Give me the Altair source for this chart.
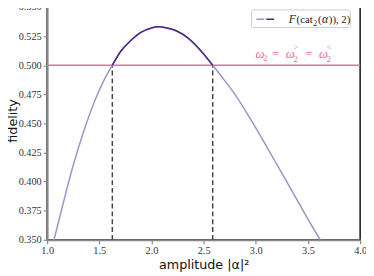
import altair as alt
import pandas as pd

# curve
amp = [1.066, 1.15, 1.25, 1.35, 1.45, 1.55, 1.625, 1.706, 1.8, 1.894, 2.0, 2.05,
       2.15, 2.2375, 2.3625, 2.4875, 2.587, 2.7, 2.8, 2.987, 3.175, 3.3625, 3.55, 3.618]
fid = [0.350, 0.380, 0.414, 0.443, 0.468, 0.488, 0.500, 0.512, 0.521, 0.528, 0.532, 0.533,
       0.532, 0.5296, 0.5225, 0.511, 0.500, 0.487, 0.475, 0.448, 0.419, 0.3895, 0.360, 0.350]
threshold = 0.5
crossings = [1.625, 2.587]
y_floor = 0.35

x_ticks = [1.0, 1.5, 2.0, 2.5, 3.0, 3.5, 4.0]
y_ticks = [0.350, 0.375, 0.400, 0.425, 0.450, 0.475, 0.500, 0.525, 0.550]

LIGHT = "#a38fcb"
DARK = "#4b2b88"
PINK = "#f06a9b"

df = pd.DataFrame({"amp": amp, "fid": fid})
df_hi = df[(df.amp >= crossings[0]) & (df.amp <= crossings[1])]
df_cross = pd.DataFrame({"amp": crossings, "lo": [y_floor] * 2, "hi": [threshold] * 2})
df_thr = pd.DataFrame({"thr": [threshold]})

xs = alt.Scale(domain=[1.0, 4.0], nice=False, zero=False)
ys = alt.Scale(domain=[0.35, 0.55], nice=False, zero=False)

common = dict(grid=False, labelFont="Liberation Serif", labelFontSize=10.5, labelColor="#333",
              titleFont="DejaVu Sans", titleFontSize=13, titleFontWeight="normal",
              titleColor="#111", domainColor="#888", domainWidth=2, tickColor="#888",
              tickSize=4, tickWidth=1.2, labelPadding=2, labelOverlap=False,
              labelFlush=False, labelBound=False)
xax = alt.Axis(values=x_ticks, format=".1f", title="amplitude |α|²", titleY=32,
               titleBaseline="bottom", **common)
yax = alt.Axis(values=y_ticks, format=".3f", title="fidelity", titleX=-28.5, titleY=116,
               titleAngle=270, titleBaseline="bottom", **common)

X = lambda f: alt.X(f, scale=xs, axis=xax)
Y = lambda f: alt.Y(f, scale=ys, axis=yax)

thr_line = alt.Chart(df_thr).mark_rule(color=PINK, strokeWidth=1.5).encode(y=Y("thr:Q"))

vlines = alt.Chart(df_cross).mark_rule(color="#444", strokeDash=[5, 3], strokeWidth=1.5).encode(
    x=X("amp:Q"), y=Y("lo:Q"), y2="hi:Q")

light = alt.Chart(df).mark_line(color=LIGHT, strokeWidth=1.5, interpolate="monotone").encode(
    x=X("amp:Q"), y=Y("fid:Q"))
dark = alt.Chart(df_hi).mark_line(color=DARK, strokeWidth=1.6, interpolate="monotone").encode(
    x=X("amp:Q"), y=Y("fid:Q"))


def txt(s, x, y, size, color, style="normal", baseline="alphabetic", font="Liberation Serif"):
    return alt.Chart(df_thr).mark_text(text=s, align="left", baseline=baseline, font=font,
                                       fontSize=size, fontStyle=style, color=color).encode(
        x=alt.value(x), y=alt.value(y))


# legend box
leg_box = alt.Chart(df_thr).mark_rect(fill="white", stroke="#ccc", strokeWidth=1,
                                      cornerRadius=2).encode(
    x=alt.value(209), x2=alt.value(310), y=alt.value(3), y2=alt.value(21))
leg_l = alt.Chart(df_thr).mark_rule(color=LIGHT, strokeWidth=1.6).encode(
    x=alt.value(214), x2=alt.value(222), y=alt.value(12.5))
leg_d = alt.Chart(df_thr).mark_rule(color=DARK, strokeWidth=1.6).encode(
    x=alt.value(224), x2=alt.value(232), y=alt.value(12.5))
leg_parts = [
    txt("F", 247, 16.5, 12, "#222", "italic"),
    txt("(cat", 255, 16.5, 11, "#222"),
    txt("2", 272, 19, 8, "#222"),
    txt("(", 277, 16.5, 11, "#222"),
    txt("α", 281, 16.5, 12, "#222", "italic"),
    txt(")), 2)", 288, 16.5, 11, "#222"),
]

pink_parts = [
    txt("ω", 213, 52, 13, PINK, "italic"),
    txt("2", 221, 55, 8.5, PINK),
    txt("=", 230, 52, 13, PINK),
    txt("ω", 244, 52, 13, PINK, "italic"),
    txt(">", 252, 44, 8.5, PINK),
    txt("2", 252, 56, 8.5, PINK),
    txt("=", 264, 52, 13, PINK),
    txt("ω", 278, 52, 13, PINK, "italic"),
    txt("<", 286, 44, 8.5, PINK),
    txt("2", 286, 56, 8.5, PINK),
]

chart = alt.layer(thr_line, vlines, light, dark, leg_box, leg_l, leg_d, *leg_parts,
                  *pink_parts).properties(
    width=320, height=238,
    padding={"left": 40, "top": -4, "right": 6, "bottom": 34},
    autosize=alt.AutoSizeParams(type="none"),
).configure_view(stroke="#111", strokeWidth=1.5)

chart.save("out.html", embed_options={"renderer": "svg", "actions": False})
